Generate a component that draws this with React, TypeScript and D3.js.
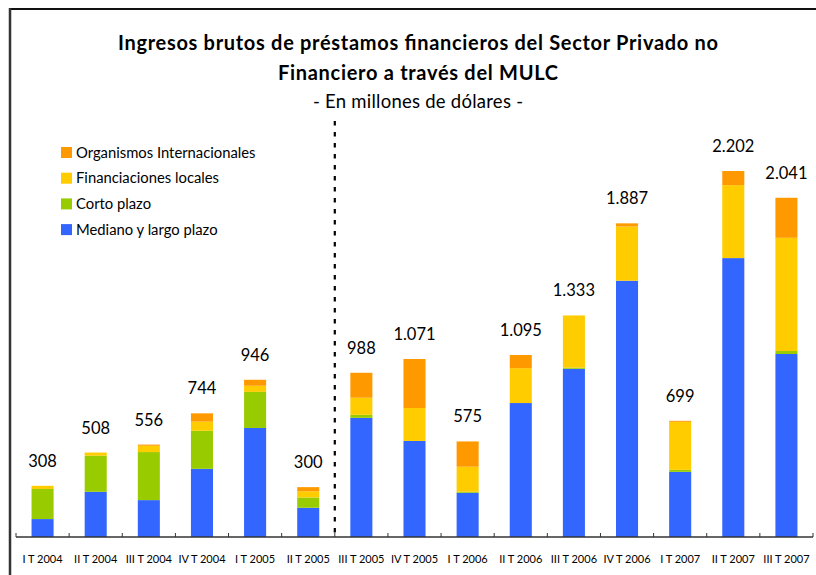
import React from "react";
import * as d3 from "d3";

const categories = [
  "I T 2004", "II T 2004", "III T 2004", "IV T 2004", "I T 2005", "II T 2005",
  "III T 2005", "IV T 2005", "I T 2006", "II T 2006", "III T 2006", "IV T 2006",
  "I T 2007", "II T 2007", "III T 2007",
];
const medianoLargo = [108, 272, 222, 410, 656, 176, 717, 578, 266, 806, 1012, 1542, 392, 1678, 1101];
const cortoPlazo = [181, 217, 289, 229, 217, 62, 18, 0, 6, 0, 7, 0, 12, 0, 18];
const financLocales = [19, 19, 38, 55, 37, 37, 103, 198, 151, 210, 314, 326, 289, 439, 681];
const organismos = [0, 0, 7, 50, 36, 25, 150, 295, 152, 79, 0, 19, 6, 85, 241];
const totals = [308, 508, 556, 744, 946, 300, 988, 1071, 575, 1095, 1333, 1887, 699, 2202, 2041];

const seriesKeys = ["mediano", "corto", "locales", "organismos"];
const seriesLabels = ["Mediano y largo plazo", "Corto plazo", "Financiaciones locales", "Organismos Internacionales"];
const seriesColors = ["#3366FF", "#99CC00", "#FFCC00", "#FF9900"];

const titleLines = [
  "Ingresos brutos de préstamos financieros del Sector Privado no",
  "Financiero a través del MULC",
];
const subtitle = "- En millones de dólares -";

const fmt = (v: number) => d3.format(",")(v).replace(/,/g, ".");

export default function App() {
  const W = 816, H = 575;
  const FONT = "Lato, 'Open Sans', sans-serif";
  const x0 = 16, x1 = 813, yBase = 537;
  const x = d3.scaleBand<string>().domain(categories).range([x0, x1]).paddingInner(0.585).paddingOuter(0.2925);
  const step = (x1 - x0) / categories.length;
  const y = d3.scaleLinear().domain([0, 2202]).range([yBase, 171]);

  const rows = categories.map((c, i) => ({
    cat: c,
    mediano: medianoLargo[i],
    corto: cortoPlazo[i],
    locales: financLocales[i],
    organismos: organismos[i],
  }));
  const stacked = d3.stack<any>().keys(seriesKeys)(rows);

  const legendOrder = [3, 2, 1, 0];
  const ticks = d3.range(categories.length + 1).map((i) => x0 + i * step);
  const titleWidths = [600, 280];

  return (
    <svg width={W} height={H} style={{ position: "absolute", left: 0, top: 0 }} fontFamily={FONT}>
      <rect x={0} y={0} width={W} height={H} fill="#fff" />
      {/* frame */}
      <line x1={9} x2={W} y1={9} y2={9} stroke="#111" strokeWidth={2} />
      <line x1={10} x2={10} y1={8} y2={H} stroke="#333" strokeWidth={2.5} />

      {titleLines.map((t, i) => (
        <text key={i} x={418} y={50 + i * 30} textAnchor="middle" fontSize={20} fontWeight="bold" fill="#000"
          textLength={titleWidths[i]} lengthAdjust="spacing">
          {t}
        </text>
      ))}
      <text x={418} y={108} textAnchor="middle" fontSize={18.5} fill="#000" textLength={210} lengthAdjust="spacing">
        {subtitle}
      </text>

      {/* dashed separator */}
      <line x1={x0 + 6 * step} x2={x0 + 6 * step} y1={121} y2={yBase} stroke="#000" strokeWidth={2.2} strokeDasharray="4.5,6.5" />

      {/* bars */}
      {stacked.map((s, si) => (
        <g key={s.key} fill={seriesColors[si]}>
          {s.map((d, i) => {
            const h = y(d[0]) - y(d[1]);
            if (h <= 0) return null;
            return (
              <rect key={i} x={x(categories[i])} y={y(d[1])} width={x.bandwidth()} height={h} />
            );
          })}
        </g>
      ))}

      {/* value labels */}
      {totals.map((v, i) => (
        <text key={i} x={(x(categories[i]) as number) + x.bandwidth() / 2} y={y(v) - 19} textAnchor="middle" fontSize={16.5} fill="#000">
          {fmt(v)}
        </text>
      ))}

      {/* axis */}
      <line x1={x0} x2={x1} y1={yBase} y2={yBase} stroke="#333" strokeWidth={1.5} />
      {ticks.map((t, i) => (
        <line key={i} x1={t} x2={t} y1={yBase} y2={yBase - 4} stroke="#333" strokeWidth={1} />
      ))}
      {categories.map((c, i) => (
        <text key={c} x={(x(c) as number) + x.bandwidth() / 2} y={563} textAnchor="middle" fontSize={11} fill="#000">
          {c}
        </text>
      ))}

      {/* legend */}
      {legendOrder.map((si, k) => (
        <g key={si} transform={`translate(61, ${147 + k * 25.7})`}>
          <rect x={0} y={0} width={11} height={11} fill={seriesColors[si]} />
          <text x={15} y={10.5} fontSize={14.8} fill="#000">
            {seriesLabels[si]}
          </text>
        </g>
      ))}
    </svg>
  );
}
